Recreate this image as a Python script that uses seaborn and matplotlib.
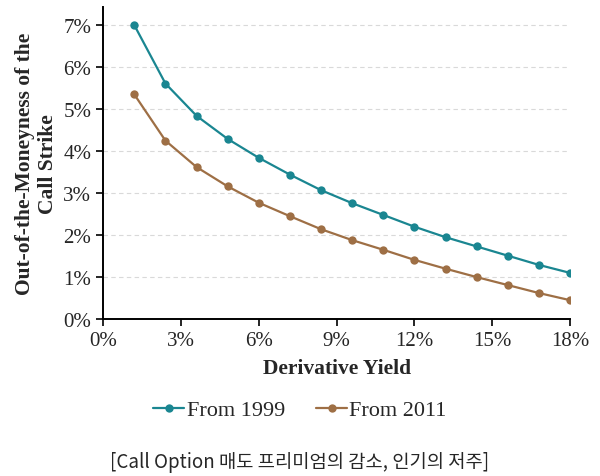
import pandas as pd
import numpy as np
import seaborn as sns
import matplotlib.pyplot as plt
from matplotlib.ticker import FuncFormatter

# data (percent)
derivative_yield = [1.2, 2.4, 3.6, 4.8, 6.0, 7.2, 8.4, 9.6, 10.8, 12.0, 13.2, 14.4, 15.6, 16.8, 18.0]
from_1999 = [7.00, 5.61, 4.84, 4.29, 3.84, 3.44, 3.07, 2.76, 2.48, 2.20, 1.95, 1.73, 1.51, 1.29, 1.10]
from_2011 = [5.35, 4.25, 3.62, 3.16, 2.77, 2.45, 2.14, 1.88, 1.65, 1.41, 1.20, 1.00, 0.81, 0.62, 0.45]
series_names = ['From 1999', 'From 2011']

df = pd.concat([
    pd.DataFrame({'x': derivative_yield, 'y': from_1999, 'series': series_names[0]}),
    pd.DataFrame({'x': derivative_yield, 'y': from_2011, 'series': series_names[1]}),
])

sns.set_style("ticks")
plt.rcParams['font.family'] = ['Liberation Serif', 'DejaVu Serif']

fig = plt.figure(figsize=(6, 4.77), dpi=100)
ax = fig.add_axes([0.172, 0.329, 0.778, 0.654])

cpalette = {"From 1999": "#1a8691", "From 2011": "#9e6f45"}
sns.lineplot(data=df, x='x', y='y', hue='series', palette=cpalette, marker='o',
             markersize=6, markeredgewidth=0, linewidth=1.6, ax=ax)

ax.set_xlim(0, 18)
ax.set_ylim(0, 7.43)
ax.set_xticks(np.arange(0, 19, 3))
ax.set_yticks(np.arange(0, 8, 1))
ax.xaxis.set_major_formatter(FuncFormatter(lambda v, p: f"{v:.0f}%"))
ax.yaxis.set_major_formatter(FuncFormatter(lambda v, p: f"{v:.0f}%"))
ax.tick_params(axis='both', labelsize=15, direction='out', length=5, width=1.2, color='black')

for v in range(1, 8):
    ax.axhline(v, xmin=0, xmax=0.995, color='#d9d9d9', linestyle=(0, (4, 3)), linewidth=0.8, zorder=0)

sns.despine(ax=ax)
for sp in ['left', 'bottom']:
    ax.spines[sp].set_linewidth(1.4)
    ax.spines[sp].set_color('black')

ax.set_xlabel('Derivative Yield', fontsize=15.5, fontweight='bold', labelpad=6)
ax.set_ylabel('Out-of-the-Moneyness of the\nCall Strike', fontsize=15.5, fontweight='bold', labelpad=4)

leg = ax.legend(loc='center', bbox_to_anchor=(0.5, 0.138), bbox_transform=fig.transFigure,
                ncol=2, frameon=False, fontsize=16, handlelength=1.4, handletextpad=0.1,
                columnspacing=1.4)

fig.text(0.5, 0.03, '[Call Option 매도 프리미엄의 감소, 인기의 저주]', ha='center', va='center',
         fontsize=13.5, fontweight='medium', family=['Noto Sans CJK KR', 'DejaVu Sans'])

plt.savefig('out.png', dpi=100)
plt.close('all')
